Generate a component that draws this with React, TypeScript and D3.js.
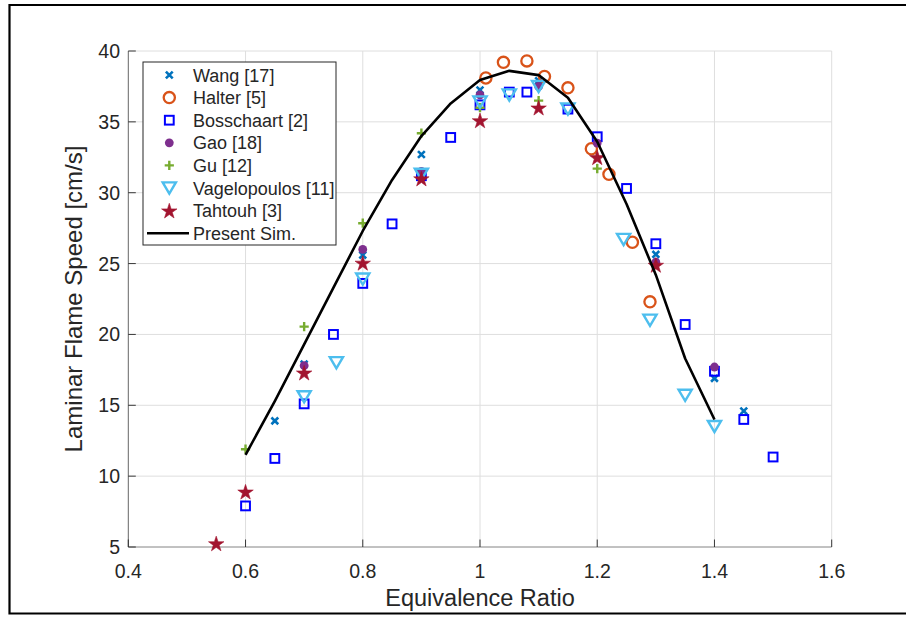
import React from "react";
import * as d3 from "d3";

// Laminar flame speed vs. equivalence ratio: experimental data sets and the present simulation
const wangPhi = [0.65, 0.7, 0.8, 0.9, 1.0, 1.1, 1.3, 1.4, 1.45];
const wangSL = [13.9, 17.9, 25.6, 32.7, 37.25, 37.9, 25.65, 16.9, 14.6];

const halterPhi = [1.01, 1.04, 1.08, 1.11, 1.15, 1.19, 1.22, 1.26, 1.29];
const halterSL = [38.1, 39.2, 39.3, 38.2, 37.4, 33.1, 31.3, 26.5, 22.3];

const bossPhi = [0.6, 0.65, 0.7, 0.75, 0.8, 0.85, 0.9, 0.95, 1.0, 1.05, 1.08, 1.15, 1.2, 1.25, 1.3, 1.35, 1.4, 1.45, 1.5];
const bossSL = [7.9, 11.25, 15.1, 20.0, 23.6, 27.8, 31.2, 33.9, 36.2, 37.1, 37.1, 35.9, 33.95, 30.3, 26.4, 20.7, 17.4, 14.0, 11.35];

const gaoPhi = [0.7, 0.8, 0.9, 1.0, 1.1, 1.2, 1.3, 1.4];
const gaoSL = [17.8, 26.0, 31.5, 36.9, 37.5, 33.5, 25.1, 17.7];

const guPhi = [0.6, 0.7, 0.8, 0.9, 1.0, 1.1, 1.2];
const guSL = [11.9, 20.55, 27.85, 34.2, 36.0, 36.5, 31.7];

const vagPhi = [0.7, 0.755, 0.8, 0.9, 1.0, 1.05, 1.1, 1.15, 1.245, 1.29, 1.35, 1.4];
const vagSL = [15.6, 18.0, 23.9, 31.3, 36.4, 36.9, 37.5, 35.9, 26.7, 21.0, 15.7, 13.5];

const tahPhi = [0.55, 0.6, 0.7, 0.8, 0.9, 1.0, 1.1, 1.2, 1.3];
const tahSL = [5.25, 8.9, 17.3, 25.05, 31.0, 35.1, 36.0, 32.5, 24.9];

const simPhi = [0.6, 0.65, 0.7, 0.75, 0.8, 0.85, 0.9, 0.95, 1.0, 1.05, 1.1, 1.15, 1.2, 1.25, 1.3, 1.35, 1.4];
const simSL = [11.5, 15.3, 19.3, 23.3, 27.3, 30.9, 34.0, 36.3, 37.95, 38.6, 38.3, 36.7, 33.6, 29.2, 24.2, 18.3, 14.0];

const xTicks = [0.4, 0.6, 0.8, 1.0, 1.2, 1.4, 1.6];
const yTicks = [5, 10, 15, 20, 25, 30, 35, 40];

const legendLabels = ["Wang [17]", "Halter [5]", "Bosschaart [2]", "Gao [18]", "Gu [12]", "Vagelopoulos [11]", "Tahtouh [3]", "Present Sim."];

const W = 906;
const H = 617;
const left = 128.3;
const right = 831.7;
const top = 51;
const bottom = 547;

const x = d3.scaleLinear().domain([0.4, 1.6]).range([left, right]);
const y = d3.scaleLinear().domain([5, 40]).range([bottom, top]);

const TEXT = "#262626";
const FONT = "Arial, 'Liberation Sans', Helvetica, sans-serif";

type Kind = "x" | "o" | "s" | "dot" | "+" | "v" | "star";

const starPath = d3.symbol().type(d3.symbolStar).size(74)() as string;

function Marker({ kind, cx, cy, color }: { kind: Kind; cx: number; cy: number; color: string }) {
  const t = `translate(${cx},${cy})`;
  switch (kind) {
    case "x": {
      const r = 3.4;
      return (
        <path transform={t} d={`M${-r},${-r}L${r},${r}M${-r},${r}L${r},${-r}`} stroke={color} strokeWidth={2.6} fill="none" />
      );
    }
    case "o":
      return <circle cx={cx} cy={cy} r={5.6} stroke={color} strokeWidth={2.3} fill="none" />;
    case "s":
      return <rect x={cx - 4.4} y={cy - 4.4} width={8.8} height={8.8} stroke={color} strokeWidth={2} fill="none" />;
    case "dot":
      return <circle cx={cx} cy={cy} r={4.4} fill={color} />;
    case "+": {
      const r = 4.6;
      return <path transform={t} d={`M${-r},0L${r},0M0,${-r}L0,${r}`} stroke={color} strokeWidth={2.4} fill="none" />;
    }
    case "v": {
      const hw = 6.6;
      const hh = 5.6;
      return (
        <path transform={t} d={`M${-hw},${-hh}L${hw},${-hh}L0,${hh}Z`} stroke={color} strokeWidth={2.4} fill="none" strokeLinejoin="miter" />
      );
    }
    case "star":
      return <path transform={`translate(${cx},${cy + 0.8})`} d={starPath} fill={color} stroke={color} strokeWidth={0.6} />;
  }
  return null;
}

const series: { phi: number[]; sl: number[]; kind: Kind; color: string }[] = [
  { phi: wangPhi, sl: wangSL, kind: "x", color: "#0072BD" },
  { phi: halterPhi, sl: halterSL, kind: "o", color: "#D95319" },
  { phi: bossPhi, sl: bossSL, kind: "s", color: "#0000FF" },
  { phi: gaoPhi, sl: gaoSL, kind: "dot", color: "#7E2F8E" },
  { phi: guPhi, sl: guSL, kind: "+", color: "#77AC30" },
  { phi: vagPhi, sl: vagSL, kind: "v", color: "#4DBEEE" },
  { phi: tahPhi, sl: tahSL, kind: "star", color: "#A2142F" },
];

export default function App() {
  const simLine = d3
    .line<number>()
    .x((_, i) => x(simPhi[i]))
    .y((d) => y(d))(simSL) as string;

  const legX = 143;
  const legY = 62;
  const legW = 193;
  const legH = 183;
  const rowY = (i: number) => 75 + i * 22.6;

  return (
    <svg
      width={W}
      height={H}
      style={{ position: "absolute", left: 0, top: 0, background: "#fff" }}
      fontFamily={FONT}
    >
      <rect x={0} y={0} width={W} height={H} fill="#fff" />
      {/* outer frame */}
      <path d={`M${W + 2},5H9.5V613.5H${W + 2}`} stroke="#000" strokeWidth={2.2} fill="none" />

      {/* grid */}
      <g stroke="#dedede" strokeWidth={1}>
        {xTicks.slice(1).map((t) => (
          <line key={`gx${t}`} x1={x(t)} x2={x(t)} y1={top} y2={bottom} />
        ))}
        {yTicks.slice(1).map((t) => (
          <line key={`gy${t}`} x1={left} x2={right} y1={y(t)} y2={y(t)} />
        ))}
      </g>

      {/* axes */}
      <g stroke={TEXT} strokeWidth={0.9} fill="none">
        <line x1={left} x2={left} y1={top} y2={bottom} stroke="#555" />
        <line x1={left} x2={right} y1={bottom} y2={bottom} stroke="#777" />
        {xTicks.map((t) => (
          <line key={`tx${t}`} x1={x(t)} x2={x(t)} y1={bottom} y2={bottom - 7.5} />
        ))}
        {yTicks.map((t) => (
          <line key={`ty${t}`} x1={left} x2={left + 7.5} y1={y(t)} y2={y(t)} />
        ))}
      </g>

      {/* tick labels */}
      <g fill={TEXT} fontSize={19.5}>
        {xTicks.map((t) => (
          <text key={`lx${t}`} x={x(t)} y={577.5} textAnchor="middle">
            {d3.format("~g")(t)}
          </text>
        ))}
        {yTicks.map((t) => (
          <text key={`ly${t}`} x={120} y={y(t) + 7} textAnchor="end">
            {t}
          </text>
        ))}
      </g>

      {/* axis titles */}
      <text x={(left + right) / 2} y={606} textAnchor="middle" fontSize={23.5} fill={TEXT}>
        Equivalence Ratio
      </text>
      <text
        transform={`translate(82,${(top + bottom) / 2}) rotate(-90)`}
        textAnchor="middle"
        fontSize={24}
        fill={TEXT}
      >
        Laminar Flame Speed [cm/s]
      </text>

      {/* experimental markers */}
      {series.map((s, si) => (
        <g key={`s${si}`}>
          {s.phi.map((p, i) => (
            <Marker key={i} kind={s.kind} cx={x(p)} cy={y(s.sl[i])} color={s.color} />
          ))}
        </g>
      ))}

      {/* simulation */}
      <path d={simLine} stroke="#000" strokeWidth={2.6} fill="none" strokeLinejoin="round" />

      {/* legend */}
      <rect x={legX} y={legY} width={legW} height={legH} fill="#fff" stroke={TEXT} strokeWidth={1} />
      {series.map((s, i) => (
        <Marker key={`lg${i}`} kind={s.kind} cx={169.3} cy={rowY(i)} color={s.color} />
      ))}
      <line x1={147} x2={189} y1={rowY(7)} y2={rowY(7)} stroke="#000" strokeWidth={2.6} />
      <g fill={TEXT} fontSize={18}>
        {legendLabels.map((l, i) => (
          <text key={`lt${i}`} x={193} y={rowY(i) + 6.5}>
            {l}
          </text>
        ))}
      </g>
    </svg>
  );
}
